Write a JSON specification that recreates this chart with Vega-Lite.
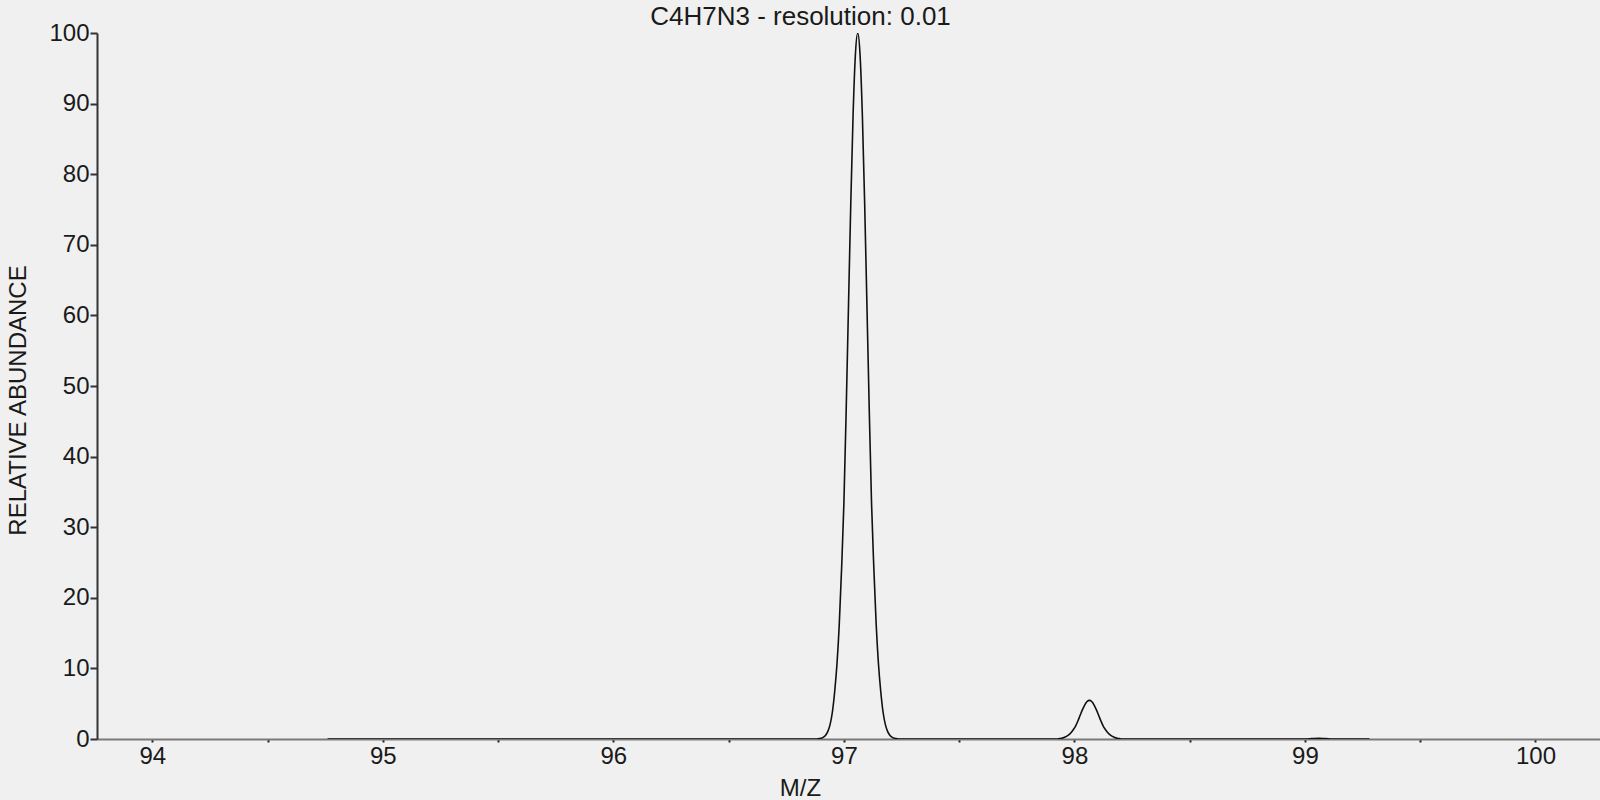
{
  "$schema": "https://vega.github.io/schema/vega-lite/v6.json",
  "description": "Simulated isotope pattern of C4H7N3 at resolution 0.01.",
  "autosize": "none",
  "padding": {"left": 97, "top": 33, "right": 0, "bottom": 61},
  "width": 1503,
  "height": 706,
  "background": "#f0f0f0",
  "title": {
    "text": "C4H7N3 - resolution: 0.01",
    "font": "Liberation Sans",
    "fontSize": 26,
    "fontWeight": "normal",
    "color": "#1a1a1a",
    "anchor": "middle",
    "frame": "group",
    "dx": -48,
    "baseline": "bottom",
    "offset": -35
  },
  "data": {
    "values": [
      {"mz": 94.76, "abundance": 0},
      {"mz": 96.88, "abundance": 0},
      {"mz": 96.89, "abundance": 0.04},
      {"mz": 96.9, "abundance": 0.1},
      {"mz": 96.91, "abundance": 0.23},
      {"mz": 96.92, "abundance": 0.5},
      {"mz": 96.93, "abundance": 1.04},
      {"mz": 96.94, "abundance": 2.04},
      {"mz": 96.95, "abundance": 3.79},
      {"mz": 96.96, "abundance": 6.69},
      {"mz": 96.97, "abundance": 10.62},
      {"mz": 96.98, "abundance": 16.3},
      {"mz": 96.99, "abundance": 24.11},
      {"mz": 97.0, "abundance": 33.37},
      {"mz": 97.01, "abundance": 46.67},
      {"mz": 97.02, "abundance": 61.41},
      {"mz": 97.03, "abundance": 76.01},
      {"mz": 97.04, "abundance": 88.52},
      {"mz": 97.05, "abundance": 97.0},
      {"mz": 97.06, "abundance": 100},
      {"mz": 97.07, "abundance": 97.0},
      {"mz": 97.08, "abundance": 88.52},
      {"mz": 97.09, "abundance": 76.01},
      {"mz": 97.1, "abundance": 61.41},
      {"mz": 97.11, "abundance": 46.67},
      {"mz": 97.12, "abundance": 33.37},
      {"mz": 97.13, "abundance": 24.11},
      {"mz": 97.14, "abundance": 16.3},
      {"mz": 97.15, "abundance": 10.62},
      {"mz": 97.16, "abundance": 6.69},
      {"mz": 97.17, "abundance": 3.79},
      {"mz": 97.18, "abundance": 2.04},
      {"mz": 97.19, "abundance": 1.04},
      {"mz": 97.2, "abundance": 0.5},
      {"mz": 97.21, "abundance": 0.23},
      {"mz": 97.22, "abundance": 0.1},
      {"mz": 97.23, "abundance": 0.04},
      {"mz": 97.24, "abundance": 0},
      {"mz": 97.925, "abundance": 0},
      {"mz": 97.935, "abundance": 0.06},
      {"mz": 97.945, "abundance": 0.11},
      {"mz": 97.955, "abundance": 0.21},
      {"mz": 97.965, "abundance": 0.37},
      {"mz": 97.975, "abundance": 0.58},
      {"mz": 97.985, "abundance": 0.89},
      {"mz": 97.995, "abundance": 1.32},
      {"mz": 98.005, "abundance": 1.83},
      {"mz": 98.015, "abundance": 2.55},
      {"mz": 98.025, "abundance": 3.36},
      {"mz": 98.035, "abundance": 4.16},
      {"mz": 98.045, "abundance": 4.84},
      {"mz": 98.055, "abundance": 5.31},
      {"mz": 98.065, "abundance": 5.47},
      {"mz": 98.075, "abundance": 5.31},
      {"mz": 98.085, "abundance": 4.84},
      {"mz": 98.095, "abundance": 4.16},
      {"mz": 98.105, "abundance": 3.36},
      {"mz": 98.115, "abundance": 2.55},
      {"mz": 98.125, "abundance": 1.83},
      {"mz": 98.135, "abundance": 1.32},
      {"mz": 98.145, "abundance": 0.89},
      {"mz": 98.155, "abundance": 0.58},
      {"mz": 98.165, "abundance": 0.37},
      {"mz": 98.175, "abundance": 0.21},
      {"mz": 98.185, "abundance": 0.11},
      {"mz": 98.195, "abundance": 0.06},
      {"mz": 98.205, "abundance": 0},
      {"mz": 99.0, "abundance": 0},
      {"mz": 99.03, "abundance": 0.05},
      {"mz": 99.06, "abundance": 0.1},
      {"mz": 99.09, "abundance": 0.05},
      {"mz": 99.12, "abundance": 0},
      {"mz": 99.28, "abundance": 0}
    ]
  },
  "mark": {"type": "line", "color": "#111111", "strokeWidth": 1.6, "interpolate": "monotone", "clip": true},
  "encoding": {
    "x": {
      "field": "mz",
      "type": "quantitative",
      "title": "M/Z",
      "scale": {"domain": [93.76, 100.28], "nice": false, "zero": false},
      "axis": {
        "values": [94, 94.5, 95, 95.5, 96, 96.5, 97, 97.5, 98, 98.5, 99, 99.5, 100],
        "labelExpr": "datum.value % 1 == 0 ? format(datum.value, 'd') : ''",
        "grid": false,
        "domainColor": "#7a7a7a",
        "domainWidth": 2,
        "tickColor": "#222222",
        "tickSize": 3,
        "tickWidth": 2,
        "labelPadding": 2,
        "labelFont": "Liberation Sans",
        "labelFontSize": 24,
        "labelColor": "#1a1a1a",
        "titleFont": "Liberation Sans",
        "titleFontSize": 24,
        "titleFontWeight": "normal",
        "titleColor": "#1a1a1a",
        "titleX": 703,
        "titleY": 56,
        "titleBaseline": "alphabetic"
      }
    },
    "y": {
      "field": "abundance",
      "type": "quantitative",
      "title": "RELATIVE ABUNDANCE",
      "scale": {"domain": [0, 100], "nice": false},
      "axis": {
        "values": [0, 10, 20, 30, 40, 50, 60, 70, 80, 90, 100],
        "grid": false,
        "domainColor": "#333333",
        "domainWidth": 2,
        "tickColor": "#333333",
        "tickSize": 7,
        "tickWidth": 2,
        "labelPadding": 1,
        "labelFont": "Liberation Sans",
        "labelFontSize": 24,
        "labelColor": "#1a1a1a",
        "titleFont": "Liberation Sans",
        "titleFontSize": 24,
        "titleFontWeight": "normal",
        "titleColor": "#1a1a1a",
        "titlePadding": 18,
        "titleY": 367
      }
    }
  },
  "config": {
    "view": {"stroke": null}
  }
}
